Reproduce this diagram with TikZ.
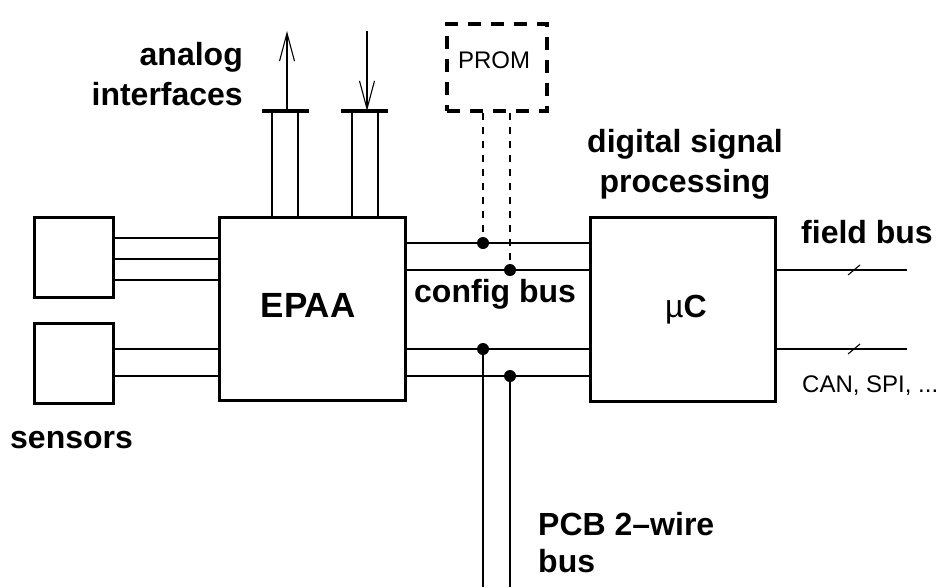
\documentclass[tikz,border=0pt]{standalone}
\usepackage{fontspec}
\setmainfont{Liberation Sans}
\usetikzlibrary{arrows.meta}
\begin{document}
\begin{tikzpicture}[x=1pt,y=-1pt,
  box/.style={draw,line width=3pt,inner sep=0pt,anchor=center},
  wire/.style={line width=1.1pt},
  bar/.style={line width=4pt},
  dot/.style={circle,fill,inner sep=0pt,minimum size=12pt},
  lbl/.style={font=\fontsize{32}{40}\selectfont\bfseries,inner sep=0pt},
  small/.style={font=\fontsize{24}{30}\selectfont,inner sep=0pt},
  barb/.style={-{Straight Barb[length=28pt,width=15pt,line width=1.1pt]}}
]
\useasboundingbox (0,0) rectangle (944,587);
% boxes
\node[box,minimum width=79pt,minimum height=80pt] (s1) at (73.5,257) {};
\node[box,minimum width=79pt,minimum height=80pt] (s2) at (73.5,363) {};
\node[box,minimum width=186pt,minimum height=183pt] (epaa) at (312,308.5) {};
\node[box,minimum width=185pt,minimum height=184pt] (uc) at (682.5,309) {};
\node[draw,line width=4pt,dash pattern=on 13pt off 10pt,inner sep=0pt,
      minimum width=100pt,minimum height=87pt] (prom) at (497,67.5) {};
% texts
\node[lbl,anchor=base] (epaat) at (308,317) {\fontsize{35}{40}\selectfont EPAA};
\node[lbl,anchor=base] (uct) at (686,317) {\fontsize{32}{40}\selectfont\mdseries µ\bfseries C};
\node[small,anchor=base] (promt) at (494,68) {PROM};
\node[lbl,anchor=base east] (an1) at (243,65) {analog};
\node[lbl,anchor=base east] (an2) at (243,105) {interfaces};
\node[lbl,anchor=base] (dsp1) at (685,152) {digital signal};
\node[lbl,anchor=base] (dsp2) at (685,192) {processing};
\node[lbl,anchor=base west] (fb) at (801,243) {field bus};
\node[lbl,anchor=base west] (cb) at (414,302) {config bus};
\node[small,anchor=base west] (can) at (802,392) {CAN, SPI, ...};
\node[lbl,anchor=base west] (sens) at (10,448) {sensors};
\node[lbl,anchor=base west] (pcb1) at (538,535) {PCB 2–wire};
\node[lbl,anchor=base west] (pcb2) at (538,572) {bus};
% sensor wires
\foreach \y in {238,259,280} \draw[wire] (s1.east |- 0,\y) -- (epaa.west |- 0,\y);
\foreach \y in {349,376} \draw[wire] (s2.east |- 0,\y) -- (epaa.west |- 0,\y);
% bus wires
\foreach \y in {243,270,349,376} \draw[wire] (epaa.east |- 0,\y) -- (uc.west |- 0,\y);
\coordinate (d1) at (483,243);
\coordinate (d2) at (510,270);
\coordinate (d3) at (483,349);
\coordinate (d4) at (510,376);
\node[dot] (dd1) at (d1) {};
\node[dot] (dd2) at (d2) {};
\node[dot] (dd3) at (d3) {};
\node[dot] (dd4) at (d4) {};
\draw[wire,dash pattern=on 7pt off 7pt] (prom.south -| d1) -- (dd1.center);
\draw[wire,dash pattern=on 7pt off 7pt] (prom.south -| d2) -- (dd2.center);
\coordinate (p1) at (483,587);
\coordinate (p2) at (510,587);
\draw[wire] (dd3.center) -- (p1);
\draw[wire] (dd4.center) -- (p2);
% analog interfaces
\coordinate (b1l) at (262,111); \coordinate (b1r) at (309,111);
\coordinate (b2l) at (341,111); \coordinate (b2r) at (388,111);
\draw[bar] (b1l) -- (b1r);
\draw[bar] (b2l) -- (b2r);
\foreach \x in {272,298,352,378} \draw[wire] (\x,111) -- (epaa.north -| \x,0);
\coordinate (a1b) at (287,111); \coordinate (a1t) at (287,31);
\coordinate (a2b) at (367,111); \coordinate (a2t) at (367,31);
\draw[wire,barb] (a1b) -- (a1t);
\draw[wire,barb] (a2t) -- (a2b);
% field bus
\coordinate (f1) at (907,270);
\coordinate (f2) at (907,349);
\draw[wire] (uc.east |- f1) -- (f1);
\draw[wire] (uc.east |- f2) -- (f2);
\draw[wire] (848,275) -- (860,265);
\draw[wire] (848,354) -- (860,344);
\end{tikzpicture}
\end{document}
